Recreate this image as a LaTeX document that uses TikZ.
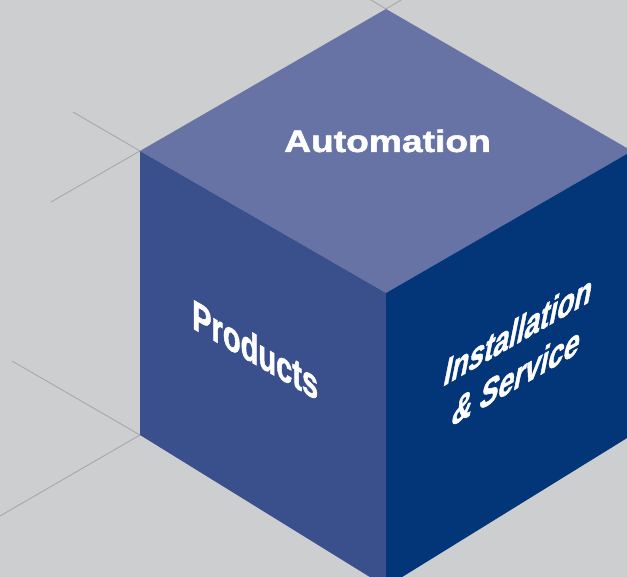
\documentclass[tikz,border=0pt]{standalone}
\usepackage{fontspec}
\setmainfont{Liberation Sans}
\newfontfamily\heavy[FakeBold=1.6]{Liberation Sans}
\definecolor{bgc}{HTML}{CDCED0}
\definecolor{linec}{HTML}{A7A8AA}
\definecolor{topc}{HTML}{6873A5}
\definecolor{leftc}{HTML}{3A508C}
\definecolor{rightc}{HTML}{033579}
\tikzset{
  guide/.style={draw=linec, line width=0.9pt},
  facelabel/.style={text=white, inner sep=0pt, anchor=base west, transform shape},
}
\begin{document}
\begin{tikzpicture}[x=1pt,y=1pt]
\fill[bgc] (0,0) rectangle (627,577);
\useasboundingbox (0,0) rectangle (627,577);
\begin{scope}
\clip (0,0) rectangle (627,577);
% cube corners
\coordinate (T)  at (386,568);
\coordinate (L)  at (140,426);
\coordinate (C)  at (386,284);
\coordinate (R)  at (632,426);
\coordinate (LB) at (140,142);
\coordinate (B)  at (386,0);
\coordinate (RB) at (632,142);
% guide line ends
\coordinate (t1) at (366,580);
\coordinate (t2) at (406,580);
\coordinate (l1) at (73,465);
\coordinate (l2) at (51,375);
\coordinate (b1) at (12,216);
\coordinate (b2) at (0,61);
\draw[guide] (T) -- (t1);
\draw[guide] (T) -- (t2);
\draw[guide] (L) -- (l1);
\draw[guide] (L) -- (l2);
\draw[guide] (LB) -- (b1);
\draw[guide] (LB) -- (b2);
% faces
\fill[topc] (T) -- (R) -- (C) -- (L) -- cycle;
\fill[leftc] (L) -- (C) -- ([yshift=-10pt]B) -- (LB) -- cycle;
\fill[rightc] (C) -- (R) -- (RB) -- ([yshift=-10pt]B) -- cycle;
\end{scope}
% labels
\node[text=white, font=\fontsize{31}{36}\heavy\bfseries, inner sep=0pt, anchor=base, xscale=1.2] (auto) at (387.5,425) {Automation};
\begin{scope}[shift={(192,249)}, cm={0.694,-0.401,0,1,(0,0)}]
\node[facelabel, font=\fontsize{41.9}{48}\heavy\bfseries] (prod) at (0,0) {Products};
\end{scope}
\begin{scope}[shift={(442,190)}, cm={0.69,0.398,0.2,1,(0,0)}]
\node[facelabel, font=\fontsize{40.5}{48}\heavy\bfseries] (inst) at (0,0) {Installation};
\end{scope}
\begin{scope}[shift={(450,150)}, cm={0.69,0.398,0.2,1,(0,0)}]
\node[facelabel, font=\fontsize{40.5}{48}\heavy\bfseries] (serv) at (0,0) {\& Service};
\end{scope}
\end{tikzpicture}
\end{document}
